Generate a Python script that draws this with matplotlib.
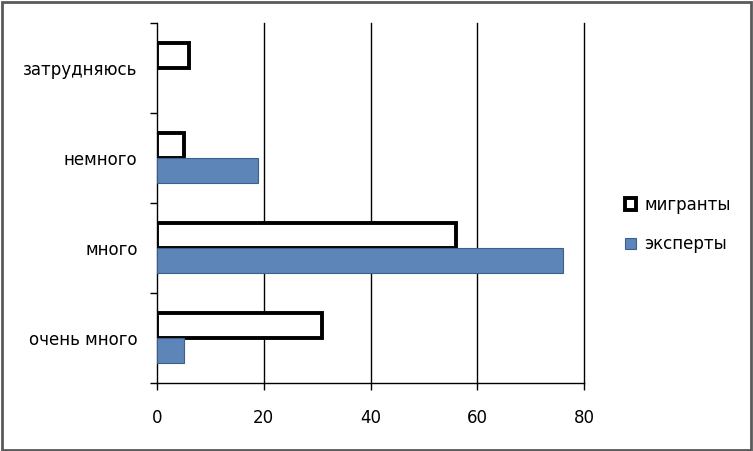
import numpy as np
import matplotlib.pyplot as plt
from matplotlib.patches import Rectangle

categories = ['очень много', 'много', 'немного', 'затрудняюсь']
migrants = [31, 56, 5, 6]
experts = [5, 76, 19, 0]
x_ticks = [0, 20, 40, 60, 80]

plt.rcParams['font.family'] = ['DejaVu Sans']

fig = plt.figure(figsize=(7.53, 4.51), dpi=100)
ax = fig.add_axes([157 / 753, 68 / 451, 427 / 753, 360 / 451])

y = np.arange(len(categories))
h = 0.28
ax.barh(y + h / 2, migrants, height=h, color='white', edgecolor='black',
        linewidth=2.8, label='мигранты', zorder=3)
exp_edges = ['#3a6090' if v > 0 else 'none' for v in experts]
ax.barh(y - h / 2, experts, height=h, color='#5e85b7', edgecolor=exp_edges,
        linewidth=0.8, label='эксперты', zorder=3)

ax.set_xlim(0, 80)
ax.set_ylim(-0.5, len(categories) - 0.5)
ax.set_xticks(x_ticks)
ax.set_yticks(y)
ax.set_yticklabels(categories)
ax.set_yticks(np.arange(len(categories) + 1) - 0.5, minor=True)
ax.tick_params(axis='y', which='major', length=0, pad=14, labelsize=12)
ax.tick_params(axis='y', which='minor', length=5, width=1, color='black')
ax.tick_params(axis='x', length=5, width=1, pad=14, labelsize=12)
for t in x_ticks[1:]:
    ax.axvline(t, color='black', linewidth=1, zorder=1, clip_on=False)
for s in ['top', 'right']:
    ax.spines[s].set_visible(False)
for s in ['left', 'bottom']:
    ax.spines[s].set_color('black')
    ax.spines[s].set_linewidth(1)

ax.legend(loc='center left', bbox_to_anchor=(1.06, 0.44), frameon=False,
          fontsize=12, handlelength=0.7, handleheight=0.7,
          labelspacing=1.3, handletextpad=0.5)

fig.patches.append(Rectangle((0.002, 0.003), 0.995, 0.993, transform=fig.transFigure,
                             fill=False, edgecolor='#5a5a5a', linewidth=2))

fig.savefig('out.png', dpi=100)
